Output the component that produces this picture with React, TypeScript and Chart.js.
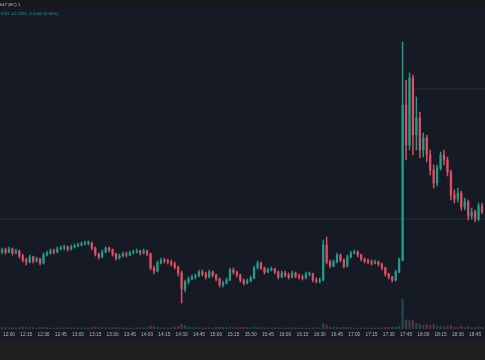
import { useEffect, useRef } from 'react';
import Chart from 'chart.js/auto';

// x-axis tick labels (one every 15 minutes, starting 12:00)
const TIME_LABELS = [
  '12:00', '12:15', '12:30', '12:45', '13:00', '13:15', '13:30', '13:45',
  '14:00', '14:15', '14:30', '14:45', '15:00', '15:15', '15:30', '15:45',
  '16:00', '16:15', '16:30', '16:45', '17:00', '17:15', '17:30', '17:45',
  '18:00', '18:15', '18:30', '18:45',
];

// candle timing (minutes relative to 12:00)
const START_MINUTE = -6;
const CANDLE_MINUTES = 3;
const X_MIN = -7.8;
const X_MAX = 413.6;

const FIRST_OPEN = 8.8;

const CLOSES = [
  9.0, 8.8, 9.1, 8.7, 8.9, 8.4, 8.0, 7.8, 8.3, 7.9,
  8.1, 7.7, 8.5, 8.7, 8.9, 8.8, 9.1, 9.2, 9.3, 9.1,
  9.3, 9.4, 9.5, 9.6, 9.7, 9.7, 9.2, 8.6, 8.3, 8.8,
  9.2, 9.0, 8.6, 8.2, 8.4, 8.6, 8.5, 8.7, 8.8, 8.9,
  8.7, 8.9, 8.6, 7.2, 6.9, 7.7, 8.0, 7.9, 7.8, 7.6,
  7.3, 6.7, 5.1, 5.8, 6.1, 6.3, 6.4, 6.8, 6.6, 6.3,
  6.8, 6.5, 6.1, 5.5, 5.7, 6.0, 7.0, 6.8, 6.5, 6.0,
  5.7, 5.9, 6.2, 7.2, 7.7, 7.2, 6.8, 7.0, 7.1, 6.8,
  6.3, 6.7, 6.5, 6.3, 6.7, 6.4, 6.3, 6.2, 6.6, 6.6,
  6.0, 5.9, 6.0, 9.5, 7.8, 7.4, 7.8, 8.5, 8.0, 7.4,
  8.3, 8.7, 8.8, 8.5, 8.1, 7.9, 7.8, 7.7, 7.8, 7.6,
  7.2, 6.6, 6.3, 6.0, 6.8, 8.0, 23.5, 19.5, 26.2, 20.5,
  22.2, 19.0, 20.2, 18.5, 17.0, 15.7, 17.2, 18.5, 18.0, 16.8,
  14.5, 14.1, 14.7, 13.3, 13.8, 12.4, 12.8, 12.1, 13.4, 12.8,
];

const HIGHS = [
  9.2, 9.2, 9.3, 9.2, 9.1, 9.0, 8.6, 8.2, 8.5, 8.4,
  8.3, 8.2, 8.7, 8.9, 9.1, 9.1, 9.3, 9.4, 9.5, 9.4,
  9.5, 9.6, 9.7, 9.8, 9.9, 9.9, 9.8, 9.3, 8.7, 9.0,
  9.3, 9.3, 9.1, 8.7, 8.6, 8.8, 8.8, 8.9, 9.0, 9.1,
  9.0, 9.1, 9.0, 8.7, 7.4, 7.9, 8.2, 8.2, 8.1, 8.0,
  7.8, 7.4, 6.9, 6.0, 6.3, 6.5, 6.6, 7.0, 7.0, 6.8,
  7.0, 6.9, 6.6, 6.2, 5.9, 6.2, 7.2, 7.2, 6.9, 6.6,
  6.1, 6.1, 6.4, 7.4, 7.9, 7.8, 7.3, 7.2, 7.3, 7.2,
  6.9, 6.9, 6.9, 6.7, 6.9, 6.8, 6.6, 6.5, 6.8, 6.8,
  6.7, 6.2, 6.2, 10.0, 10.3, 8.0, 8.0, 8.7, 8.6, 8.1,
  8.5, 8.9, 9.0, 8.9, 8.6, 8.2, 8.1, 8.0, 8.0, 7.9,
  7.7, 7.3, 6.7, 6.4, 7.0, 8.2, 29.8, 26.0, 26.7, 26.5,
  24.3, 22.8, 20.7, 20.5, 19.0, 17.5, 17.5, 18.8, 19.0, 18.3,
  17.0, 15.0, 15.2, 14.9, 14.2, 14.0, 13.2, 13.0, 13.7, 13.7,
];

const LOWS = [
  8.6, 8.6, 8.7, 8.5, 8.6, 8.2, 7.8, 7.5, 7.7, 7.7,
  7.8, 7.5, 7.6, 8.4, 8.6, 8.6, 8.7, 9.0, 9.0, 8.9,
  9.0, 9.2, 9.3, 9.4, 9.5, 9.5, 9.0, 8.4, 8.1, 8.2,
  8.7, 8.8, 8.4, 8.0, 8.1, 8.3, 8.3, 8.4, 8.6, 8.7,
  8.5, 8.6, 8.4, 7.0, 6.6, 6.8, 7.6, 7.7, 7.6, 7.4,
  7.1, 6.4, 3.7, 4.8, 5.6, 6.0, 6.1, 6.3, 6.4, 6.1,
  6.2, 6.3, 5.9, 5.3, 5.3, 5.6, 5.9, 6.6, 6.3, 5.8,
  5.5, 5.6, 5.8, 6.1, 7.1, 7.0, 6.6, 6.7, 6.9, 6.6,
  6.1, 6.2, 6.3, 6.1, 6.2, 6.2, 6.1, 6.0, 6.1, 6.4,
  5.8, 5.7, 5.7, 5.9, 7.6, 7.2, 7.3, 7.7, 7.8, 7.2,
  7.3, 8.2, 8.6, 8.3, 7.9, 7.7, 7.6, 7.5, 7.6, 7.4,
  7.0, 6.4, 6.1, 5.8, 5.9, 6.7, 7.9, 18.0, 19.0, 18.5,
  19.0, 18.2, 18.3, 17.8, 16.5, 15.2, 15.4, 17.0, 17.5, 16.4,
  14.0, 13.7, 13.8, 13.0, 13.0, 12.0, 12.1, 11.8, 11.9, 12.6,
];

const VOLUMES = [
  0.5, 0.4, 0.3, 0.4, 0.3, 0.5, 0.6, 0.5, 0.4, 0.4,
  0.3, 0.5, 0.5, 0.4, 0.3, 0.3, 0.4, 0.3, 0.3, 0.4,
  0.3, 0.3, 0.4, 0.3, 0.4, 0.3, 0.5, 0.6, 0.5, 0.4,
  0.4, 0.3, 0.4, 0.5, 0.4, 0.3, 0.3, 0.3, 0.3, 0.3,
  0.4, 0.3, 0.4, 0.9, 0.7, 0.6, 0.4, 0.3, 0.3, 0.4,
  0.5, 0.8, 1.5, 1.0, 0.6, 0.5, 0.4, 0.4, 0.3, 0.4,
  0.4, 0.3, 0.5, 0.6, 0.5, 0.4, 0.6, 0.4, 0.4, 0.5,
  0.5, 0.4, 0.4, 0.6, 0.5, 0.4, 0.4, 0.3, 0.3, 0.4,
  0.4, 0.3, 0.3, 0.3, 0.4, 0.3, 0.3, 0.3, 0.3, 0.3,
  0.4, 0.4, 0.3, 1.6, 1.2, 0.6, 0.5, 0.5, 0.4, 0.5,
  0.5, 0.4, 0.3, 0.3, 0.3, 0.3, 0.3, 0.3, 0.3, 0.3,
  0.4, 0.5, 0.5, 0.6, 0.6, 0.8, 9.0, 2.8, 2.5, 2.6,
  1.8, 1.5, 1.2, 1.3, 1.0, 1.4, 0.8, 0.9, 0.6, 0.7,
  1.1, 0.6, 0.5, 0.8, 0.5, 0.7, 0.4, 0.5, 0.6, 0.5,
];

const PRICE_LINE = 12.1;
const UPPER_LINE = 25.1;
const UPPER_LINE_FROM = 351;

const Y_MIN = 1.1;
const Y_MAX = 34;
const VOL_MAX = 100;

const HEADER_TITLE = 'h47 (EC) 1';
const HEADER_QUOTE = '7281 -02.2281 -0.0000 (0.00%)';

const UP = '#1f9e89';
const DOWN = '#e04f63';
const UP_VOL = 'rgba(34,171,148,0.35)';
const DOWN_VOL = 'rgba(247,82,95,0.35)';
const LINE_COLOR = 'rgba(120,123,134,0.22)';
const BG = '#161a25';
const FONT = '"Liberation Sans", Arial, sans-serif';

const headerPlugin = {
  id: 'header',
  afterDraw(chart: any) {
    const ctx = chart.ctx;
    ctx.save();
    ctx.fillStyle = '#17181d';
    ctx.fillRect(0, 0, chart.width, 9);
    ctx.font = `4.2px ${FONT}`;
    ctx.textBaseline = 'middle';
    ctx.fillStyle = '#c8cad2';
    ctx.fillText(HEADER_TITLE, 0, 4.5);
    ctx.fillStyle = UP;
    ctx.fillText(HEADER_QUOTE, 0, 13.5);
    ctx.restore();
  },
};

export default function App() {
  const ref = useRef<HTMLCanvasElement>(null);
  useEffect(() => {
    document.body.style.margin = '0';
    const times = CLOSES.map((_, i) => START_MINUTE + i * CANDLE_MINUTES);
    const opens = CLOSES.map((_, i) => (i === 0 ? FIRST_OPEN : CLOSES[i - 1]));
    const up = CLOSES.map((c, i) => c >= opens[i]);
    const bodyColors = up.map((u) => (u ? UP : DOWN));
    const volColors = up.map((u) => (u ? UP_VOL : DOWN_VOL));
    const chart = new Chart(ref.current!, {
      type: 'bar',
      data: {
        datasets: [
          {
            label: 'body',
            data: times.map((t, i) => ({ x: t, y: [opens[i], CLOSES[i]] })),
            backgroundColor: bodyColors,
            barThickness: 1.6,
            minBarLength: 1,
            grouped: false,
            yAxisID: 'y',
            order: 0,
          } as any,
          {
            label: 'wick',
            data: times.map((t, i) => ({ x: t, y: [LOWS[i], HIGHS[i]] })),
            backgroundColor: bodyColors,
            barThickness: 0.8,
            grouped: false,
            yAxisID: 'y',
            order: 1,
          } as any,
          {
            label: 'volume',
            data: times.map((t, i) => ({ x: t, y: VOLUMES[i] })),
            backgroundColor: volColors,
            barThickness: 1.6,
            grouped: false,
            yAxisID: 'yv',
            order: 2,
          } as any,
          {
            type: 'line',
            label: 'price line',
            data: [{ x: X_MIN, y: PRICE_LINE }, { x: X_MAX, y: PRICE_LINE }],
            borderColor: LINE_COLOR,
            borderWidth: 1,
            pointRadius: 0,
            yAxisID: 'y',
            order: 3,
          } as any,
          {
            type: 'line',
            label: 'upper line',
            data: [{ x: UPPER_LINE_FROM, y: UPPER_LINE }, { x: X_MAX, y: UPPER_LINE }],
            borderColor: LINE_COLOR,
            borderWidth: 1,
            pointRadius: 0,
            yAxisID: 'y',
            order: 3,
          } as any,
        ],
      },
      options: {
        animation: false,
        responsive: true,
        maintainAspectRatio: false,
        events: [],
        layout: { padding: 0 },
        plugins: { legend: { display: false }, tooltip: { enabled: false } },
        scales: {
          x: {
            type: 'linear',
            min: X_MIN,
            max: X_MAX,
            offset: false,
            grid: { display: false, drawTicks: false },
            border: { display: false },
            ticks: {
              stepSize: 15,
              includeBounds: false,
              autoSkip: false,
              maxRotation: 0,
              minRotation: 0,
              padding: 3,
              color: '#b2b5be',
              font: { size: 4.8, family: FONT },
              callback: (v: any) => TIME_LABELS[Math.round(Number(v) / 15)] ?? '',
            },
            afterFit: (s: any) => {
              s.height = 11;
              s.paddingLeft = 0;
              s.paddingRight = 0;
            },
          } as any,
          y: { display: false, min: Y_MIN, max: Y_MAX },
          yv: { display: false, min: 0, max: VOL_MAX, position: 'right' },
        },
      },
      plugins: [headerPlugin],
    });
    return () => chart.destroy();
  }, []);

  return (
    <div style={{ position: 'fixed', left: 0, top: 0, width: 485, height: 360, background: '#1f1f1f' }}>
      <div style={{ position: 'absolute', left: 0, top: 0, width: 485, height: 340, background: BG }}>
        <canvas ref={ref} />
      </div>
    </div>
  );
}
